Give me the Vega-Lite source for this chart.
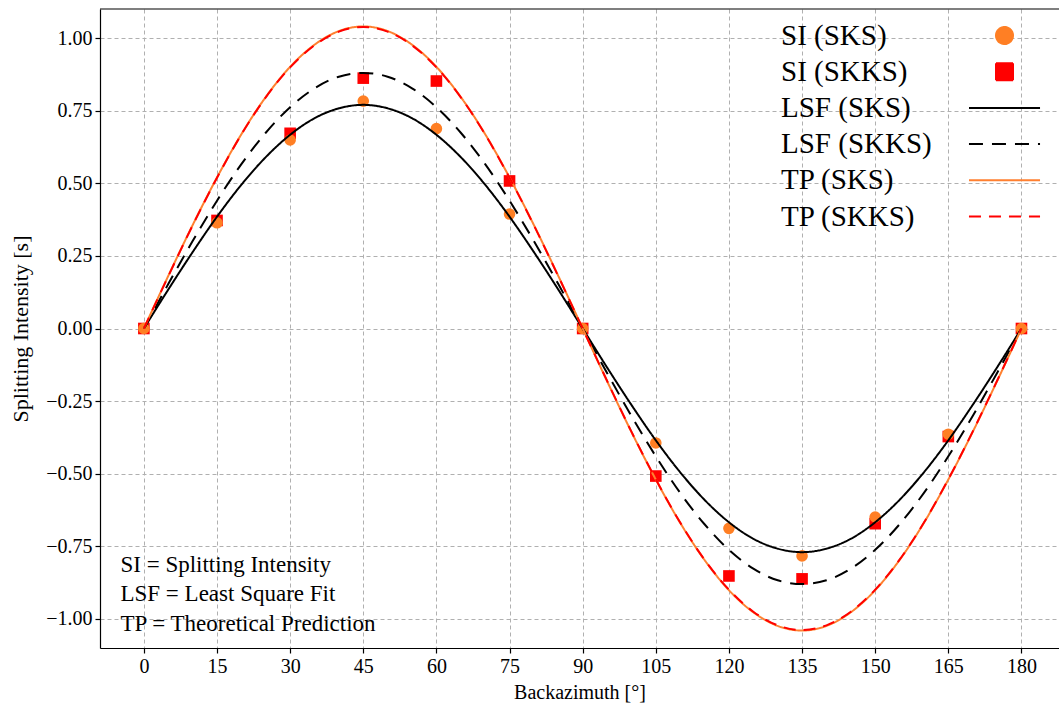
{
  "$schema": "https://vega.github.io/schema/vega-lite/v6.json",
  "width": 959,
  "height": 639,
  "autosize": {"type": "none"},
  "padding": {"left": 100, "top": 9, "right": 0, "bottom": 58},
  "background": "white",
  "datasets": {
    "pts": [
      {"series": "SI (SKKS)", "az": 0, "si": 0},
      {"series": "SI (SKKS)", "az": 15, "si": 0.372},
      {"series": "SI (SKKS)", "az": 30, "si": 0.672},
      {"series": "SI (SKKS)", "az": 45, "si": 0.862},
      {"series": "SI (SKKS)", "az": 60, "si": 0.852},
      {"series": "SI (SKKS)", "az": 75, "si": 0.508},
      {"series": "SI (SKKS)", "az": 90, "si": 0},
      {"series": "SI (SKKS)", "az": 105, "si": -0.508},
      {"series": "SI (SKKS)", "az": 120, "si": -0.852},
      {"series": "SI (SKKS)", "az": 135, "si": -0.862},
      {"series": "SI (SKKS)", "az": 150, "si": -0.672},
      {"series": "SI (SKKS)", "az": 165, "si": -0.372},
      {"series": "SI (SKKS)", "az": 180, "si": 0},
      {"series": "SI (SKS)", "az": 0, "si": 0},
      {"series": "SI (SKS)", "az": 15, "si": 0.364},
      {"series": "SI (SKS)", "az": 30, "si": 0.649},
      {"series": "SI (SKS)", "az": 45, "si": 0.783},
      {"series": "SI (SKS)", "az": 60, "si": 0.688},
      {"series": "SI (SKS)", "az": 75, "si": 0.394},
      {"series": "SI (SKS)", "az": 90, "si": 0},
      {"series": "SI (SKS)", "az": 105, "si": -0.394},
      {"series": "SI (SKS)", "az": 120, "si": -0.688},
      {"series": "SI (SKS)", "az": 135, "si": -0.783},
      {"series": "SI (SKS)", "az": 150, "si": -0.649},
      {"series": "SI (SKS)", "az": 165, "si": -0.364},
      {"series": "SI (SKS)", "az": 180, "si": 0}
    ],
    "curves": [
      {"series": "LSF (SKS)", "az": 0, "si": 0},
      {"series": "LSF (SKS)", "az": 5, "si": 0.134},
      {"series": "LSF (SKS)", "az": 10, "si": 0.263},
      {"series": "LSF (SKS)", "az": 15, "si": 0.385},
      {"series": "LSF (SKS)", "az": 20, "si": 0.495},
      {"series": "LSF (SKS)", "az": 25, "si": 0.590},
      {"series": "LSF (SKS)", "az": 30, "si": 0.667},
      {"series": "LSF (SKS)", "az": 35, "si": 0.724},
      {"series": "LSF (SKS)", "az": 40, "si": 0.758},
      {"series": "LSF (SKS)", "az": 45, "si": 0.770},
      {"series": "LSF (SKS)", "az": 50, "si": 0.758},
      {"series": "LSF (SKS)", "az": 55, "si": 0.724},
      {"series": "LSF (SKS)", "az": 60, "si": 0.667},
      {"series": "LSF (SKS)", "az": 65, "si": 0.590},
      {"series": "LSF (SKS)", "az": 70, "si": 0.495},
      {"series": "LSF (SKS)", "az": 75, "si": 0.385},
      {"series": "LSF (SKS)", "az": 80, "si": 0.263},
      {"series": "LSF (SKS)", "az": 85, "si": 0.134},
      {"series": "LSF (SKS)", "az": 90, "si": 0},
      {"series": "LSF (SKS)", "az": 95, "si": -0.134},
      {"series": "LSF (SKS)", "az": 100, "si": -0.263},
      {"series": "LSF (SKS)", "az": 105, "si": -0.385},
      {"series": "LSF (SKS)", "az": 110, "si": -0.495},
      {"series": "LSF (SKS)", "az": 115, "si": -0.590},
      {"series": "LSF (SKS)", "az": 120, "si": -0.667},
      {"series": "LSF (SKS)", "az": 125, "si": -0.724},
      {"series": "LSF (SKS)", "az": 130, "si": -0.758},
      {"series": "LSF (SKS)", "az": 135, "si": -0.770},
      {"series": "LSF (SKS)", "az": 140, "si": -0.758},
      {"series": "LSF (SKS)", "az": 145, "si": -0.724},
      {"series": "LSF (SKS)", "az": 150, "si": -0.667},
      {"series": "LSF (SKS)", "az": 155, "si": -0.590},
      {"series": "LSF (SKS)", "az": 160, "si": -0.495},
      {"series": "LSF (SKS)", "az": 165, "si": -0.385},
      {"series": "LSF (SKS)", "az": 170, "si": -0.263},
      {"series": "LSF (SKS)", "az": 175, "si": -0.134},
      {"series": "LSF (SKS)", "az": 180, "si": 0},
      {"series": "LSF (SKKS)", "az": 0, "si": 0},
      {"series": "LSF (SKKS)", "az": 5, "si": 0.153},
      {"series": "LSF (SKKS)", "az": 10, "si": 0.301},
      {"series": "LSF (SKKS)", "az": 15, "si": 0.440},
      {"series": "LSF (SKKS)", "az": 20, "si": 0.566},
      {"series": "LSF (SKKS)", "az": 25, "si": 0.674},
      {"series": "LSF (SKKS)", "az": 30, "si": 0.762},
      {"series": "LSF (SKKS)", "az": 35, "si": 0.827},
      {"series": "LSF (SKKS)", "az": 40, "si": 0.867},
      {"series": "LSF (SKKS)", "az": 45, "si": 0.880},
      {"series": "LSF (SKKS)", "az": 50, "si": 0.867},
      {"series": "LSF (SKKS)", "az": 55, "si": 0.827},
      {"series": "LSF (SKKS)", "az": 60, "si": 0.762},
      {"series": "LSF (SKKS)", "az": 65, "si": 0.674},
      {"series": "LSF (SKKS)", "az": 70, "si": 0.566},
      {"series": "LSF (SKKS)", "az": 75, "si": 0.440},
      {"series": "LSF (SKKS)", "az": 80, "si": 0.301},
      {"series": "LSF (SKKS)", "az": 85, "si": 0.153},
      {"series": "LSF (SKKS)", "az": 90, "si": 0},
      {"series": "LSF (SKKS)", "az": 95, "si": -0.153},
      {"series": "LSF (SKKS)", "az": 100, "si": -0.301},
      {"series": "LSF (SKKS)", "az": 105, "si": -0.440},
      {"series": "LSF (SKKS)", "az": 110, "si": -0.566},
      {"series": "LSF (SKKS)", "az": 115, "si": -0.674},
      {"series": "LSF (SKKS)", "az": 120, "si": -0.762},
      {"series": "LSF (SKKS)", "az": 125, "si": -0.827},
      {"series": "LSF (SKKS)", "az": 130, "si": -0.867},
      {"series": "LSF (SKKS)", "az": 135, "si": -0.880},
      {"series": "LSF (SKKS)", "az": 140, "si": -0.867},
      {"series": "LSF (SKKS)", "az": 145, "si": -0.827},
      {"series": "LSF (SKKS)", "az": 150, "si": -0.762},
      {"series": "LSF (SKKS)", "az": 155, "si": -0.674},
      {"series": "LSF (SKKS)", "az": 160, "si": -0.566},
      {"series": "LSF (SKKS)", "az": 165, "si": -0.440},
      {"series": "LSF (SKKS)", "az": 170, "si": -0.301},
      {"series": "LSF (SKKS)", "az": 175, "si": -0.153},
      {"series": "LSF (SKKS)", "az": 180, "si": 0},
      {"series": "TP (SKS)", "az": 0, "si": 0},
      {"series": "TP (SKS)", "az": 5, "si": 0.181},
      {"series": "TP (SKS)", "az": 10, "si": 0.356},
      {"series": "TP (SKS)", "az": 15, "si": 0.520},
      {"series": "TP (SKS)", "az": 20, "si": 0.669},
      {"series": "TP (SKS)", "az": 25, "si": 0.797},
      {"series": "TP (SKS)", "az": 30, "si": 0.901},
      {"series": "TP (SKS)", "az": 35, "si": 0.977},
      {"series": "TP (SKS)", "az": 40, "si": 1.024},
      {"series": "TP (SKS)", "az": 45, "si": 1.040},
      {"series": "TP (SKS)", "az": 50, "si": 1.024},
      {"series": "TP (SKS)", "az": 55, "si": 0.977},
      {"series": "TP (SKS)", "az": 60, "si": 0.901},
      {"series": "TP (SKS)", "az": 65, "si": 0.797},
      {"series": "TP (SKS)", "az": 70, "si": 0.669},
      {"series": "TP (SKS)", "az": 75, "si": 0.520},
      {"series": "TP (SKS)", "az": 80, "si": 0.356},
      {"series": "TP (SKS)", "az": 85, "si": 0.181},
      {"series": "TP (SKS)", "az": 90, "si": 0},
      {"series": "TP (SKS)", "az": 95, "si": -0.181},
      {"series": "TP (SKS)", "az": 100, "si": -0.356},
      {"series": "TP (SKS)", "az": 105, "si": -0.520},
      {"series": "TP (SKS)", "az": 110, "si": -0.669},
      {"series": "TP (SKS)", "az": 115, "si": -0.797},
      {"series": "TP (SKS)", "az": 120, "si": -0.901},
      {"series": "TP (SKS)", "az": 125, "si": -0.977},
      {"series": "TP (SKS)", "az": 130, "si": -1.024},
      {"series": "TP (SKS)", "az": 135, "si": -1.040},
      {"series": "TP (SKS)", "az": 140, "si": -1.024},
      {"series": "TP (SKS)", "az": 145, "si": -0.977},
      {"series": "TP (SKS)", "az": 150, "si": -0.901},
      {"series": "TP (SKS)", "az": 155, "si": -0.797},
      {"series": "TP (SKS)", "az": 160, "si": -0.669},
      {"series": "TP (SKS)", "az": 165, "si": -0.520},
      {"series": "TP (SKS)", "az": 170, "si": -0.356},
      {"series": "TP (SKS)", "az": 175, "si": -0.181},
      {"series": "TP (SKS)", "az": 180, "si": 0},
      {"series": "TP (SKKS)", "az": 0, "si": 0},
      {"series": "TP (SKKS)", "az": 5, "si": 0.180},
      {"series": "TP (SKKS)", "az": 10, "si": 0.355},
      {"series": "TP (SKKS)", "az": 15, "si": 0.519},
      {"series": "TP (SKKS)", "az": 20, "si": 0.668},
      {"series": "TP (SKKS)", "az": 25, "si": 0.796},
      {"series": "TP (SKKS)", "az": 30, "si": 0.899},
      {"series": "TP (SKKS)", "az": 35, "si": 0.975},
      {"series": "TP (SKKS)", "az": 40, "si": 1.022},
      {"series": "TP (SKKS)", "az": 45, "si": 1.038},
      {"series": "TP (SKKS)", "az": 50, "si": 1.022},
      {"series": "TP (SKKS)", "az": 55, "si": 0.975},
      {"series": "TP (SKKS)", "az": 60, "si": 0.899},
      {"series": "TP (SKKS)", "az": 65, "si": 0.796},
      {"series": "TP (SKKS)", "az": 70, "si": 0.668},
      {"series": "TP (SKKS)", "az": 75, "si": 0.519},
      {"series": "TP (SKKS)", "az": 80, "si": 0.355},
      {"series": "TP (SKKS)", "az": 85, "si": 0.180},
      {"series": "TP (SKKS)", "az": 90, "si": 0},
      {"series": "TP (SKKS)", "az": 95, "si": -0.180},
      {"series": "TP (SKKS)", "az": 100, "si": -0.355},
      {"series": "TP (SKKS)", "az": 105, "si": -0.519},
      {"series": "TP (SKKS)", "az": 110, "si": -0.668},
      {"series": "TP (SKKS)", "az": 115, "si": -0.796},
      {"series": "TP (SKKS)", "az": 120, "si": -0.899},
      {"series": "TP (SKKS)", "az": 125, "si": -0.975},
      {"series": "TP (SKKS)", "az": 130, "si": -1.022},
      {"series": "TP (SKKS)", "az": 135, "si": -1.038},
      {"series": "TP (SKKS)", "az": 140, "si": -1.022},
      {"series": "TP (SKKS)", "az": 145, "si": -0.975},
      {"series": "TP (SKKS)", "az": 150, "si": -0.899},
      {"series": "TP (SKKS)", "az": 155, "si": -0.796},
      {"series": "TP (SKKS)", "az": 160, "si": -0.668},
      {"series": "TP (SKKS)", "az": 165, "si": -0.519},
      {"series": "TP (SKKS)", "az": 170, "si": -0.355},
      {"series": "TP (SKKS)", "az": 175, "si": -0.180},
      {"series": "TP (SKKS)", "az": 180, "si": 0}
    ],
    "note": [{"note": "SI = Splitting Intensity\nLSF = Least Square Fit\nTP = Theoretical Prediction"}],
    "frame": [{"edge": "top"}]
  },
  "layer": [
    {
      "data": {"name": "pts"},
      "mark": {"type": "point", "filled": true, "size": 135, "opacity": 1},
      "encoding": {
        "x": {
          "field": "az", "type": "quantitative",
          "scale": {"domain": [-9, 187.7], "nice": false, "zero": false},
          "axis": {"values": [0, 15, 30, 45, 60, 75, 90, 105, 120, 135, 150, 165, 180], "title": "Backazimuth [°]", "titlePadding": 6}
        },
        "y": {
          "field": "si", "type": "quantitative",
          "scale": {"domain": [-1.1, 1.1], "nice": false},
          "axis": {"values": [-1, -0.75, -0.5, -0.25, 0, 0.25, 0.5, 0.75, 1], "format": ".2f", "title": "Splitting Intensity [s]", "titleFontSize": 22, "titlePadding": 13}
        },
        "color": {
          "field": "series", "type": "nominal", "sort": null,
          "scale": {"domain": ["SI (SKS)", "SI (SKKS)", "LSF (SKS)", "LSF (SKKS)", "TP (SKS)", "TP (SKKS)"], "range": ["#ff7f24", "#ff0000", "#000000", "#000000", "#ff8030", "#ff0000"]},
          "legend": {"orient": "none", "legendX": 890, "legendY": 12, "title": null, "padding": 0, "labelAlign": "left", "labelOffset": -238, "labelFontSize": 29, "labelLimit": 0, "symbolSize": 289, "symbolStrokeWidth": 2, "rowPadding": 6.2,
            "encode": {"symbols": {"update": {"fill": {"scale": "color", "field": "value"}, "stroke": {"scale": "color", "field": "value"}, "strokeDash": {"scale": "strokeDash", "field": "value"}, "strokeWidth": {"value": 2}, "opacity": {"value": 1}}}}}
        },
        "shape": {
          "field": "series", "type": "nominal", "sort": null,
          "scale": {"domain": ["SI (SKS)", "SI (SKKS)", "LSF (SKS)", "LSF (SKKS)", "TP (SKS)", "TP (SKKS)"], "range": ["circle", "square", "M-4.18,0H4.18", "M-4.18,0H4.18", "M-4.18,0H4.18", "M-4.18,0H4.18"]},
          "legend": {"orient": "none", "legendX": 890, "legendY": 12, "title": null, "padding": 0, "labelAlign": "left", "labelOffset": -238, "labelFontSize": 29, "labelLimit": 0, "symbolSize": 289, "symbolStrokeWidth": 2, "rowPadding": 6.2}
        }
      }
    },
    {
      "data": {"name": "curves"},
      "mark": {"type": "line", "strokeWidth": 2, "interpolate": "monotone"},
      "encoding": {
        "x": {"field": "az", "type": "quantitative"},
        "y": {"field": "si", "type": "quantitative"},
        "color": {
          "field": "series", "type": "nominal", "sort": null,
          "scale": {"domain": ["SI (SKS)", "SI (SKKS)", "LSF (SKS)", "LSF (SKKS)", "TP (SKS)", "TP (SKKS)"], "range": ["#ff7f24", "#ff0000", "#000000", "#000000", "#ff8030", "#ff0000"]},
          "legend": {"orient": "none", "legendX": 890, "legendY": 12, "title": null, "padding": 0, "labelAlign": "left", "labelOffset": -238, "labelFontSize": 29, "labelLimit": 0, "symbolSize": 289, "symbolStrokeWidth": 2, "rowPadding": 6.2,
            "encode": {"symbols": {"update": {"fill": {"scale": "color", "field": "value"}, "stroke": {"scale": "color", "field": "value"}, "strokeDash": {"scale": "strokeDash", "field": "value"}, "strokeWidth": {"value": 2}, "opacity": {"value": 1}}}}}
        },
        "strokeDash": {
          "field": "series", "type": "nominal", "sort": null,
          "scale": {"domain": ["SI (SKS)", "SI (SKKS)", "LSF (SKS)", "LSF (SKKS)", "TP (SKS)", "TP (SKKS)"], "range": [[1, 0], [1, 0], [1, 0], [14, 9], [1, 0], [12, 8]]},
          "legend": {"orient": "none", "legendX": 890, "legendY": 12, "title": null, "padding": 0, "labelAlign": "left", "labelOffset": -238, "labelFontSize": 29, "labelLimit": 0, "symbolSize": 289, "symbolStrokeWidth": 2, "rowPadding": 6.2}
        }
      }
    },
    {
      "data": {"name": "frame"},
      "mark": {"type": "rule", "color": "black", "strokeWidth": 1.2},
      "encoding": {"y": {"datum": 1.1, "type": "quantitative"}}
    },
    {
      "data": {"name": "note"},
      "mark": {"type": "text", "align": "left", "baseline": "alphabetic", "lineBreak": "\n", "lineHeight": 29.5, "fontSize": 23, "font": "Liberation Serif", "color": "black"},
      "encoding": {
        "x": {"datum": -4.8, "type": "quantitative"},
        "y": {"datum": -0.837, "type": "quantitative"},
        "text": {"field": "note", "type": "nominal"}
      }
    }
  ],
  "config": {
    "view": {"stroke": null},
    "font": "Liberation Serif",
    "axis": {
      "labelFont": "Liberation Serif", "labelFontSize": 20, "labelColor": "black",
      "titleFont": "Liberation Serif", "titleFontSize": 20, "titleColor": "black", "titleFontWeight": "normal",
      "domainColor": "black", "domainWidth": 1.2,
      "tickColor": "black", "tickSize": 5, "tickWidth": 1.2,
      "labelPadding": 3,
      "grid": true, "gridColor": "#b0b0b0", "gridDash": [4, 3], "gridWidth": 1
    },
    "legend": {"labelFont": "Liberation Serif", "labelColor": "black"}
  }
}
